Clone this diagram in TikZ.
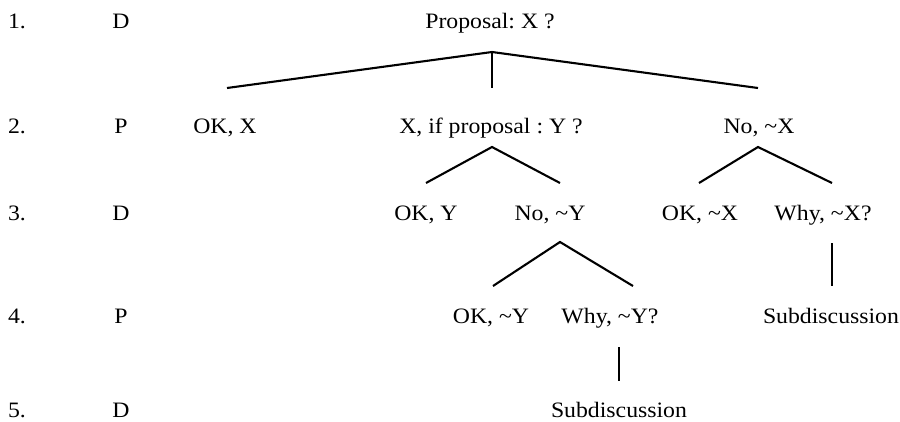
\documentclass[tikz,border=0pt]{standalone}
\usepackage{fontspec}
\setmainfont{Liberation Serif}[FakeStretch=1.08]
\frenchspacing
\begin{document}
\begin{tikzpicture}[x=1pt,y=-1pt,
  lbl/.style={anchor=base,inner sep=0pt,font=\fontsize{22}{26}\selectfont},
  edge/.style={line width=2.1pt,line cap=butt}]
\useasboundingbox (0,0) rectangle (900,421);
% row labels
\node[lbl] (n1) at (17,28) {1.};
\node[lbl] (n2) at (17,133) {2.};
\node[lbl] (n3) at (17,220) {3.};
\node[lbl] (n4) at (17,323) {4.};
\node[lbl] (n5) at (17,417) {5.};
\node[lbl] (r1) at (121,28) {D};
\node[lbl] (r2) at (121,133) {P};
\node[lbl] (r3) at (121,220) {D};
\node[lbl] (r4) at (121,323) {P};
\node[lbl] (r5) at (121,417) {D};
% tree nodes
\node[lbl] (prop) at (490,28) {Proposal: X ?};
\node[lbl] (okx) at (225,133) {OK, X};
\node[lbl] (xif) at (491,133) {X, if proposal : Y ?};
\node[lbl] (nox) at (759,133) {No, \char"7E X};
\node[lbl] (oky) at (426,220) {OK, Y};
\node[lbl] (noy) at (550,220) {No, \char"7E Y};
\node[lbl] (oknx) at (700,220) {OK, \char"7E X};
\node[lbl] (whyx) at (823,220) {Why, \char"7E X?};
\node[lbl] (okny) at (491,323) {OK, \char"7E Y};
\node[lbl] (whyy) at (610,323) {Why, \char"7E Y?};
\node[lbl] (subx) at (831,323) {Subdiscussion};
\node[lbl] (suby) at (619,417) {Subdiscussion};
% connector points
\coordinate (a1) at (492,52);
\coordinate (e-okx) at (227,88);
\coordinate (e-xif) at (492,88);
\coordinate (e-nox) at (758,88);
\coordinate (a2) at (492,147);
\coordinate (e-oky) at (426,183);
\coordinate (e-noy) at (560,183);
\coordinate (a3) at (758,147);
\coordinate (e-oknx) at (699,183);
\coordinate (e-whyx) at (832,183);
\coordinate (a4) at (560,242);
\coordinate (e-okny) at (493,286);
\coordinate (e-whyy) at (633,286);
\coordinate (s1a) at (832,243);
\coordinate (s1b) at (832,286);
\coordinate (s2a) at (619,347);
\coordinate (s2b) at (619,381);
\draw[edge] (e-okx) -- (a1) -- (e-nox);
\draw[edge] (a1) -- (e-xif);
\draw[edge] (e-oky) -- (a2) -- (e-noy);
\draw[edge] (e-oknx) -- (a3) -- (e-whyx);
\draw[edge] (e-okny) -- (a4) -- (e-whyy);
\draw[edge] (s1a) -- (s1b);
\draw[edge] (s2a) -- (s2b);
\end{tikzpicture}
\end{document}
